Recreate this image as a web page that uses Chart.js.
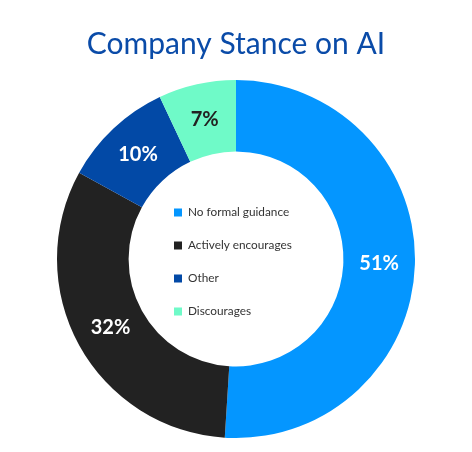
<!DOCTYPE html>
<html lang="en">
<head>
<meta charset="UTF-8">
<title>Company Stance on AI</title>
<script src="https://cdn.jsdelivr.net/npm/chart.js@4.4.1/dist/chart.umd.min.js"></script>
<style>
  body { margin: 0; background: #fff; }
  canvas { display: block; }
</style>
</head>
<body>
<canvas id="chart" width="472" height="452"></canvas>
<script>
const labels = ['No formal guidance', 'Actively encourages', 'Other', 'Discourages'];
const values = [51, 32, 10, 7];
const colors = ['#0496ff', '#222222', '#0249a6', '#6ffac8'];
const labelColors = ['#ffffff', '#ffffff', '#ffffff', '#222222'];

const fontFamily = 'Lato, "Noto Sans", sans-serif';

// percent labels in the middle of each slice
const sliceLabels = {
  id: 'sliceLabels',
  afterDatasetsDraw(chart) {
    const ctx = chart.ctx;
    const meta = chart.getDatasetMeta(0);
    const total = values.reduce((a, b) => a + b, 0);
    ctx.save();
    ctx.font = 'bold 20px ' + fontFamily;
    ctx.textAlign = 'center';
    ctx.textBaseline = 'middle';
    meta.data.forEach((arc, i) => {
      const p = arc.tooltipPosition();
      ctx.fillStyle = labelColors[i];
      ctx.fillText(Math.round(values[i] / total * 100) + '%', p.x, p.y);
    });
    ctx.restore();
  }
};

// legend drawn inside the hole
const centerLegend = {
  id: 'centerLegend',
  afterDraw(chart) {
    const ctx = chart.ctx;
    const arc = chart.getDatasetMeta(0).data[0];
    const cx = arc.x, cy = arc.y;
    const rowGap = 33;
    const startY = cy - rowGap * 1.5 + 3;
    const left = cx - 62;
    ctx.save();
    ctx.font = '11.8px ' + fontFamily;
    ctx.textBaseline = 'middle';
    ctx.textAlign = 'left';
    labels.forEach((lab, i) => {
      const y = startY + i * rowGap;
      ctx.fillStyle = colors[i];
      ctx.fillRect(left, y - 4, 8, 8);
      ctx.fillStyle = '#333333';
      ctx.fillText(lab, left + 14, y);
    });
    ctx.restore();
  }
};

new Chart(document.getElementById('chart'), {
  type: 'doughnut',
  data: {
    labels: labels,
    datasets: [{
      data: values,
      backgroundColor: colors,
      borderWidth: 0,
      hoverOffset: 0
    }]
  },
  options: {
    responsive: false,
    animation: false,
    cutout: '60%',
    layout: { padding: { bottom: 14 } },
    plugins: {
      legend: { display: false },
      tooltip: { enabled: false },
      title: {
        display: true,
        text: 'Company Stance on AI',
        color: '#0a4ba8',
        font: { family: fontFamily, size: 30, weight: 'normal' },
        padding: { top: 26, bottom: 18 }
      }
    }
  },
  plugins: [sliceLabels, centerLegend]
});
</script>
</body>
</html>
